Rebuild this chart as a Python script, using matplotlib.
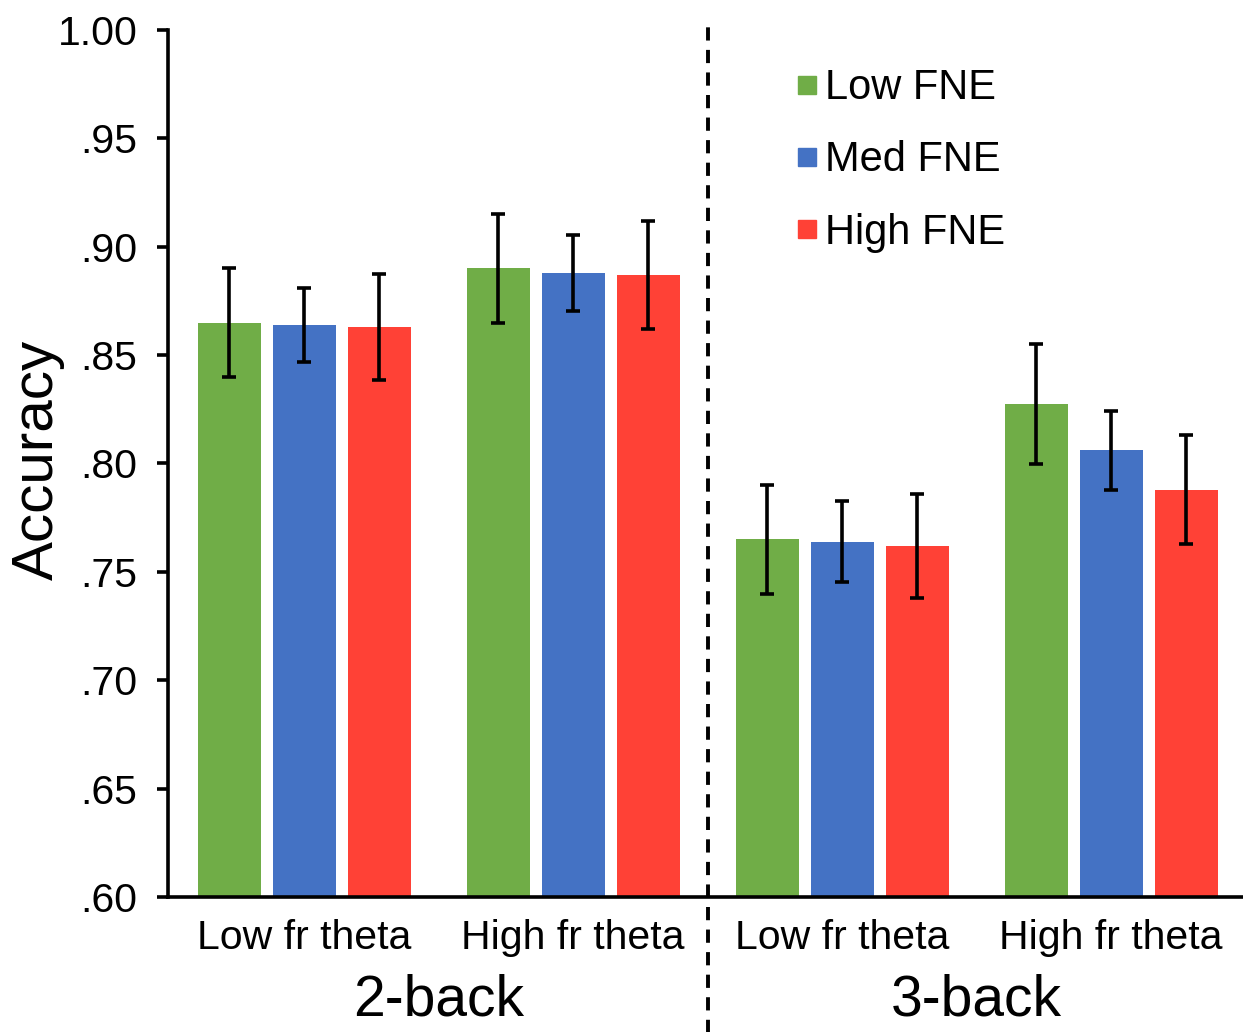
import numpy as np
import matplotlib
matplotlib.use("Agg")
import matplotlib.pyplot as plt
import matplotlib.transforms as mtransforms
from matplotlib.lines import Line2D

plt.rcParams['font.family'] = ['Liberation Sans', 'DejaVu Sans']

# data
conditions = ["Low fr theta", "High fr theta", "Low fr theta", "High fr theta"]
tasks = ["2-back", "3-back"]
series = ["Low FNE", "Med FNE", "High FNE"]
colors = ["#70AD47", "#4472C4", "#FF4136"]

low_fne = [0.865, 0.890, 0.765, 0.8275]
med_fne = [0.864, 0.888, 0.764, 0.806]
high_fne = [0.863, 0.887, 0.762, 0.788]
low_err = [0.025, 0.025, 0.025, 0.0275]
med_err = [0.017, 0.0175, 0.0185, 0.018]
high_err = [0.0245, 0.025, 0.024, 0.025]

values = [low_fne, med_fne, high_fne]
errors = [low_err, med_err, high_err]

fig = plt.figure(figsize=(12.43, 10.32), dpi=100)
ax = fig.add_axes([168 / 1243, 1 - 897 / 1032, 1 - 168 / 1243, 867 / 1032])

x = np.arange(len(conditions))
step = 0.279
width = 0.234
for i in range(3):
    ax.bar(x + (i - 1) * step, values[i], width, color=colors[i],
           yerr=errors[i], capsize=5,
           error_kw=dict(elinewidth=2.6, capthick=2.6, ecolor='black'))

ax.set_xlim(-0.506, 3.49)
ax.set_ylim(0.60, 1.00)
yt = np.arange(0.60, 1.001, 0.05)
ax.set_yticks(yt)
ax.set_yticklabels(["1.00" if abs(v - 1) < 1e-6 else ("%.2f" % v)[1:] for v in yt])
ax.set_xticks(x)
ax.set_xticklabels(conditions)

ax.spines['top'].set_visible(False)
ax.spines['right'].set_visible(False)
ax.spines['left'].set_linewidth(2.6)
ax.spines['bottom'].set_linewidth(2.6)
ax.tick_params(axis='y', direction='out', length=8, width=2.6, pad=14, labelsize=29.5)
ax.tick_params(axis='x', length=0, pad=16, labelsize=29.5)

# dashed separator between tasks
trans = mtransforms.blended_transform_factory(ax.transData, ax.transAxes)
ax.plot([1.5, 1.5], [-0.16, 1.004], transform=trans, color='black',
        lw=2.8, ls=(0, (3.4, 2.4)), clip_on=False)

# task labels
for j, t in enumerate(tasks):
    ax.text(2 * j + 0.5, -0.119, t, transform=trans, ha='center', va='center', fontsize=41)

fig.text(38 / 1243, 1 - 460 / 1032, "Accuracy", rotation=90, ha='center', va='center', fontsize=42)

handles = [Line2D([], [], marker='s', ls='', color=c, markersize=13) for c in colors]
ax.legend(handles, series, loc='upper left', bbox_to_anchor=(0.563, 0.975),
          frameon=False, fontsize=30, handletextpad=0.05, labelspacing=0.77,
          handlelength=0.8, borderaxespad=0)

fig.savefig("out.png", dpi=100)
